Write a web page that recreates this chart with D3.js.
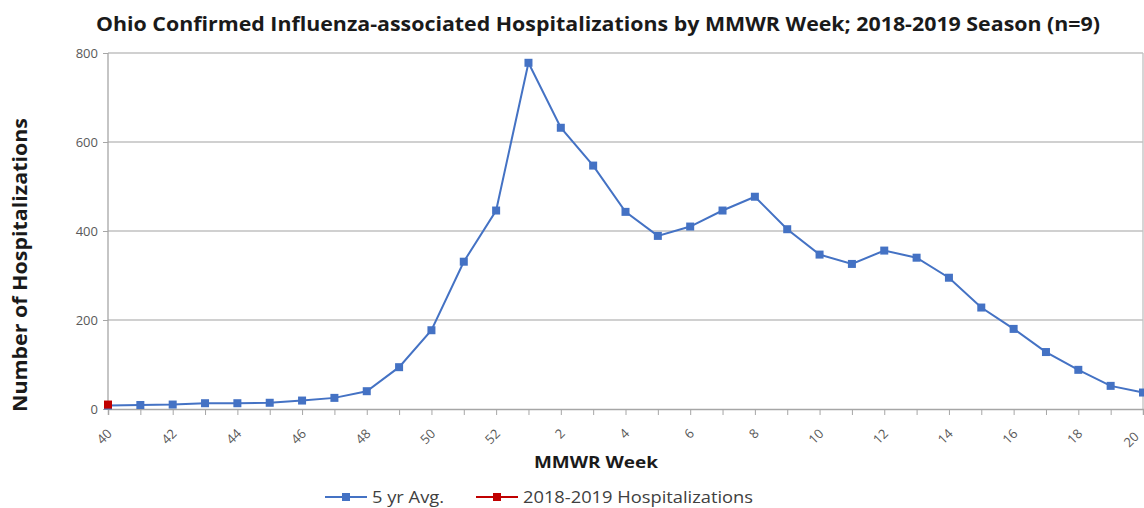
<!DOCTYPE html>
<html>
<head>
<meta charset="utf-8">
<script src="https://cdn.jsdelivr.net/npm/d3@7"></script>
<style>
  body { margin: 0; background: #fff; }
  text { font-family: "Open Sans", "Noto Sans", sans-serif; }
</style>
</head>
<body>
<div id="chart"></div>
<script>
// MMWR weeks across the season
var weeks = [40, 41, 42, 43, 44, 45, 46, 47, 48, 49, 50, 51, 52,
  1, 2, 3, 4, 5, 6, 7, 8, 9, 10, 11, 12, 13, 14, 15, 16, 17, 18, 19, 20];

// 5 yr average hospitalizations
var avgValues = [8, 9, 10, 13, 13, 14, 19, 25, 40, 94, 177, 331, 446,
  778, 632, 547, 443, 389, 410, 446, 477, 404, 347, 326, 356, 340, 295, 228, 180, 128, 88, 52, 37];

// 2018-2019 season so far
var seasonValues = [10];

var yTicks = [0, 200, 400, 600, 800];

var svgWidth = 1144;
var svgHeight = 508;

var margin = { top: 53, right: 1, bottom: 99, left: 108 };
var width = svgWidth - margin.left - margin.right;
var height = svgHeight - margin.top - margin.bottom;

var blue = "#4472C4";
var red = "#C00000";

var svg = d3.select("#chart")
  .append("svg")
  .attr("width", svgWidth)
  .attr("height", svgHeight);

var chartGroup = svg.append("g")
  .attr("transform", `translate(${margin.left}, ${margin.top})`);

var xScale = d3.scalePoint()
  .domain(d3.range(weeks.length))
  .range([0, width]);

var yScale = d3.scaleLinear()
  .domain([0, 800])
  .range([height, 0]);

// gridlines
chartGroup.append("g")
  .selectAll("line")
  .data(yTicks.filter(d => d > 0))
  .enter()
  .append("line")
  .attr("x1", 0)
  .attr("x2", width)
  .attr("y1", d => yScale(d))
  .attr("y2", d => yScale(d))
  .attr("stroke", "#c0c0c0")
  .attr("stroke-width", 1.3);

// left and right borders
chartGroup.append("line")
  .attr("x1", 0).attr("x2", 0)
  .attr("y1", 0).attr("y2", height)
  .attr("stroke", "#a6a6a6").attr("stroke-width", 1.3);
chartGroup.append("line")
  .attr("x1", width).attr("x2", width)
  .attr("y1", 0).attr("y2", height)
  .attr("stroke", "#c0c0c0").attr("stroke-width", 1.3);

// y axis
var leftAxis = d3.axisLeft(yScale).tickValues(yTicks).tickSize(5).tickPadding(5);
var yAxis = chartGroup.append("g").call(leftAxis);
yAxis.select(".domain").remove();
yAxis.selectAll("line").attr("stroke", "#a6a6a6");
yAxis.selectAll("text")
  .attr("fill", "#595959")
  .style("font-size", "13px");

// x axis
var bottomAxis = d3.axisBottom(xScale)
  .tickSize(6)
  .tickFormat(i => (i % 2 === 0 ? weeks[i] : ""));
var xAxis = chartGroup.append("g")
  .attr("transform", `translate(0, ${height})`)
  .call(bottomAxis);
xAxis.select(".domain")
  .attr("stroke", "#a6a6a6")
  .attr("stroke-width", 1.5);
xAxis.selectAll("line").attr("stroke", "#a6a6a6");
// last label sits at the edge, nudge it in so it stays visible
xAxis.selectAll("text")
  .attr("fill", "#595959")
  .style("font-size", "13px")
  .style("text-anchor", "end")
  .attr("dx", 0)
  .attr("dy", 0)
  .attr("transform", i => i === weeks.length - 1
    ? "translate(-10, 22) rotate(-45)"
    : "translate(-2, 19) rotate(-45)");

// 5 yr average line
var line = d3.line()
  .x((d, i) => xScale(i))
  .y(d => yScale(d));

chartGroup.append("path")
  .datum(avgValues)
  .attr("fill", "none")
  .attr("stroke", blue)
  .attr("stroke-width", 2)
  .attr("d", line);

chartGroup.selectAll(".avg-mark")
  .data(avgValues)
  .enter()
  .append("rect")
  .attr("class", "avg-mark")
  .attr("x", (d, i) => xScale(i) - 4)
  .attr("y", d => yScale(d) - 4)
  .attr("width", 8)
  .attr("height", 8)
  .attr("fill", blue);

// current season
chartGroup.append("path")
  .datum(seasonValues)
  .attr("fill", "none")
  .attr("stroke", red)
  .attr("stroke-width", 2)
  .attr("d", line);

chartGroup.selectAll(".season-mark")
  .data(seasonValues)
  .enter()
  .append("rect")
  .attr("class", "season-mark")
  .attr("x", (d, i) => xScale(i) - 4)
  .attr("y", d => yScale(d) - 4)
  .attr("width", 8)
  .attr("height", 8)
  .attr("fill", red);

// title
svg.append("text")
  .attr("x", 598)
  .attr("y", 31)
  .attr("text-anchor", "middle")
  .attr("textLength", 1004)
  .attr("lengthAdjust", "spacingAndGlyphs")
  .style("font-size", "19px")
  .style("font-weight", "bold")
  .attr("fill", "#1a1a1a")
  .text("Ohio Confirmed Influenza-associated Hospitalizations by MMWR Week; 2018-2019 Season (n=9)");

// y axis title
svg.append("text")
  .attr("transform", "translate(27, 265) rotate(-90)")
  .attr("text-anchor", "middle")
  .attr("textLength", 294)
  .attr("lengthAdjust", "spacingAndGlyphs")
  .style("font-size", "20px")
  .style("font-weight", "bold")
  .attr("fill", "#1a1a1a")
  .text("Number of Hospitalizations");

// x axis title
svg.append("text")
  .attr("x", 596)
  .attr("y", 468)
  .attr("text-anchor", "middle")
  .attr("textLength", 124)
  .attr("lengthAdjust", "spacingAndGlyphs")
  .style("font-size", "16px")
  .style("font-weight", "bold")
  .attr("fill", "#1a1a1a")
  .text("MMWR Week");

// legend
var legendItems = [
  { label: "5 yr Avg.", color: blue, x: 325, len: 72 },
  { label: "2018-2019 Hospitalizations", color: red, x: 476, len: 230 }
];

var legend = svg.append("g");
legendItems.forEach(function(item) {
  var g = legend.append("g").attr("transform", `translate(${item.x}, 497)`);
  g.append("line")
    .attr("x1", 0).attr("x2", 42)
    .attr("y1", 0).attr("y2", 0)
    .attr("stroke", item.color)
    .attr("stroke-width", 2);
  g.append("rect")
    .attr("x", 17).attr("y", -4)
    .attr("width", 8).attr("height", 8)
    .attr("fill", item.color);
  g.append("text")
    .attr("x", 47)
    .attr("y", 6)
    .attr("textLength", item.len)
    .attr("lengthAdjust", "spacingAndGlyphs")
    .style("font-size", "17px")
    .attr("fill", "#404040")
    .text(item.label);
});
</script>
</body>
</html>
